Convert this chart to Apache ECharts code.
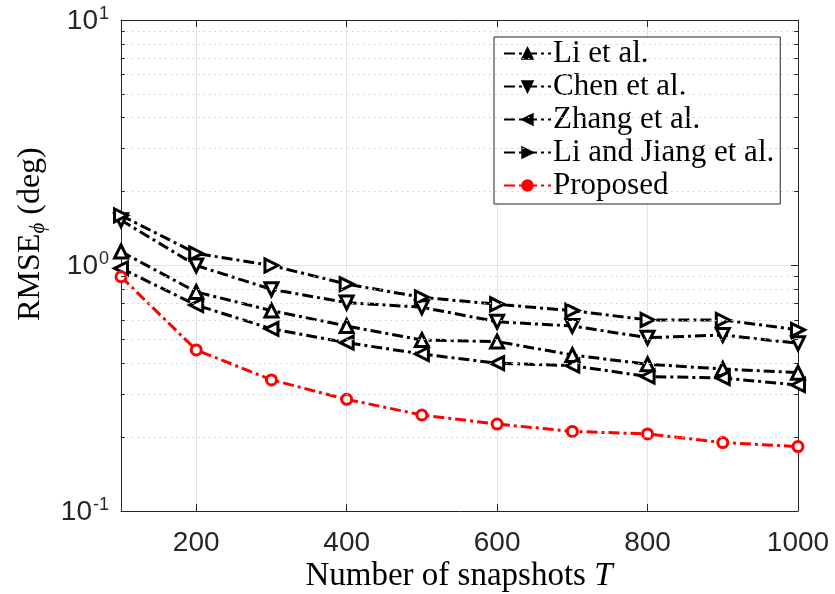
<!DOCTYPE html>
<html>
<head>
<meta charset="utf-8">
<script src="https://cdn.jsdelivr.net/npm/echarts@6/dist/echarts.min.js"></script>
<style>
html,body{margin:0;padding:0;background:#fff;}
#c{width:835px;height:594px;}
</style>
</head>
<body>
<div id="c"></div>
<script>
const snapshots = [100, 200, 300, 400, 500, 600, 700, 800, 900, 1000];
const liEtAl     = [1.14, 0.78, 0.655, 0.567, 0.497, 0.49, 0.432, 0.396, 0.379, 0.366];
const chenEtAl   = [1.53, 1.00, 0.80, 0.706, 0.676, 0.59, 0.567, 0.508, 0.521, 0.482];
const zhangEtAl  = [0.974, 0.69, 0.552, 0.485, 0.436, 0.40, 0.391, 0.353, 0.348, 0.326];
const liJiang    = [1.60, 1.12, 1.00, 0.84, 0.742, 0.695, 0.655, 0.60, 0.60, 0.547];
const proposed   = [0.90, 0.453, 0.342, 0.285, 0.246, 0.226, 0.211, 0.206, 0.190, 0.183];
const seriesNames = ['Li et al.', 'Chen et al.', 'Zhang et al.', 'Li and Jiang et al.', 'Proposed'];
const xTickValues = [200, 400, 600, 800, 1000];
const yMinorValues = [0.2,0.3,0.4,0.5,0.6,0.7,0.8,0.9,2,3,4,5,6,7,8,9];

const chart = echarts.init(document.getElementById('c'), null, {renderer: 'canvas'});
const dashDot = [11, 4, 3, 4];
const axisColor = '#262626';
const sansFont = 'Liberation Sans, Arial, sans-serif';
const serifFont = 'Liberation Serif, Times New Roman, serif';

function pts(arr) { return snapshots.map((x, i) => [x, arr[i]]); }

function blackSeries(name, arr, rot) {
  return {
    name: name, type: 'line', data: pts(arr), clip: false,
    symbol: 'triangle', symbolSize: 13, symbolRotate: rot,
    lineStyle: {color: '#000', width: 3, type: dashDot},
    itemStyle: {color: '#fff', borderColor: '#000', borderWidth: 3},
    z: 3
  };
}

const minorLines = yMinorValues.map(v => ({yAxis: v}));
const minorTicks = [];
yMinorValues.forEach(v => {
  minorTicks.push([{coord: [100, v]}, {coord: [105, v]}]);
  minorTicks.push([{coord: [995, v]}, {coord: [1000, v]}]);
});

const legendData = seriesNames.map((n, i) => ({
  name: n,
  itemStyle: {color: i === 4 ? '#ff0000' : '#000'}
}));

const option = {
  backgroundColor: '#fff',
  animation: false,
  grid: {left: 121, right: 37, top: 20, bottom: 83, containLabel: false},
  legend: {
    data: legendData,
    orient: 'vertical',
    left: 494, top: 37,
    padding: [1, 6, 3, 9],
    itemWidth: 47, itemHeight: 13, itemGap: 2,
    backgroundColor: '#fff',
    borderColor: axisColor, borderWidth: 1,
    textStyle: {fontFamily: serifFont, fontSize: 31, color: '#000', lineHeight: 31, padding: [0,0,0,-3]}
  },
  xAxis: [{
    type: 'value', min: 100, max: 1000, interval: 100,
    axisLine: {show: true, onZero: false, lineStyle: {color: axisColor, width: 1}},
    axisTick: {show: true, inside: true, length: 7, customValues: xTickValues, lineStyle: {color: axisColor}},
    axisLabel: {customValues: xTickValues, fontFamily: sansFont, fontSize: 28, color: '#262626', margin: 18,
      formatter: function (v) { return String(v); }},
    splitLine: {show: true, lineStyle: {color: '#e3e3e3', width: 1}}
  }, {
    type: 'value', min: 100, max: 1000, interval: 100, position: 'top',
    axisLine: {show: true, onZero: false, lineStyle: {color: axisColor, width: 1}},
    axisTick: {show: true, inside: true, length: 7, customValues: xTickValues, lineStyle: {color: axisColor}},
    axisLabel: {show: false},
    splitLine: {show: false}
  }],
  yAxis: [{
    type: 'log', logBase: 10, min: 0.1, max: 10,
    axisLine: {show: true, onZero: false, lineStyle: {color: axisColor, width: 1}},
    axisTick: {show: true, inside: true, length: 7, lineStyle: {color: axisColor}},
    axisLabel: {
      margin: 12,
      formatter: function (v) {
        const e = Math.round(Math.log10(v));
        return '{b|10}{s|' + e + '}';
      },
      rich: {
        b: {fontFamily: sansFont, fontSize: 28, color: '#262626', verticalAlign: 'bottom', lineHeight: 30},
        s: {fontFamily: sansFont, fontSize: 18, color: '#262626', verticalAlign: 'top', lineHeight: 30, padding: [0,0,14,1]}
      }
    },
    splitLine: {show: true, lineStyle: {color: '#e3e3e3', width: 1}}
  }, {
    type: 'log', logBase: 10, min: 0.1, max: 10, position: 'right',
    axisLine: {show: true, onZero: false, lineStyle: {color: axisColor, width: 1}},
    axisTick: {show: true, inside: true, length: 7, lineStyle: {color: axisColor}},
    axisLabel: {show: false},
    splitLine: {show: false}
  }],
  graphic: [{
    type: 'text', z: 10,
    rotation: Math.PI / 2,
    x: 31, y: 234,
    style: {
      text: '{n|RMSE}{sub|ϕ}{n| (deg)}',
      align: 'center', verticalAlign: 'middle',
      rich: {
        n: {fontFamily: serifFont, fontSize: 32, fill: '#000'},
        sub: {fontFamily: serifFont, fontSize: 21, fontStyle: 'italic', fill: '#000', padding: [14,0,0,0]}
      }
    }
  }, {
    type: 'text', z: 10,
    x: 459, y: 576,
    style: {
      text: '{n|Number of snapshots }{i|T}',
      align: 'center', verticalAlign: 'middle',
      rich: {
        n: {fontFamily: serifFont, fontSize: 33, fill: '#000'},
        i: {fontFamily: serifFont, fontSize: 33, fontStyle: 'italic', fill: '#000'}
      }
    }
  }],
  series: [
    {
      name: '_grid', type: 'line', data: [], silent: true, z: 1,
      markLine: {
        silent: true, symbol: 'none', animation: false,
        label: {show: false},
        lineStyle: {color: '#cfcfcf', width: 1, type: [1.5, 4]},
        emphasis: {disabled: true},
        data: minorLines
      }
    },
    {
      name: '_ticks', type: 'line', data: [], silent: true, z: 1,
      markLine: {
        silent: true, symbol: 'none', animation: false,
        label: {show: false},
        lineStyle: {color: axisColor, width: 1, type: 'solid'},
        emphasis: {disabled: true},
        data: minorTicks
      }
    },
    blackSeries('Li et al.', liEtAl, 0),
    blackSeries('Chen et al.', chenEtAl, 180),
    blackSeries('Zhang et al.', zhangEtAl, 90),
    blackSeries('Li and Jiang et al.', liJiang, -90),
    {
      name: 'Proposed', type: 'line', data: pts(proposed), clip: false,
      symbol: 'circle', symbolSize: 10,
      lineStyle: {color: '#ff0000', width: 3, type: dashDot},
      itemStyle: {color: '#fff', borderColor: '#ff0000', borderWidth: 3},
      z: 4
    }
  ]
};
chart.setOption(option);
</script>
</body>
</html>
